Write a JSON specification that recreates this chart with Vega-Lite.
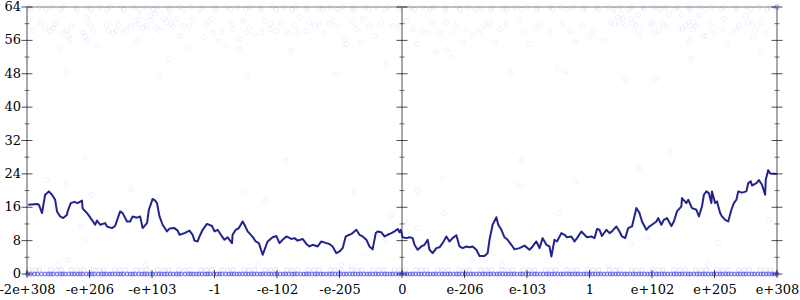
{
  "$schema": "https://vega.github.io/schema/vega-lite/v6.json",
  "width": 750,
  "height": 267,
  "autosize": {"type": "none"},
  "padding": {"left": 27, "top": 7, "right": 23, "bottom": 26},
  "background": "white",
  "config": {
    "font": "DejaVu Serif",
    "view": {"stroke": null},
    "axis": {"grid": false, "domain": false, "ticks": false, "labelFont": "DejaVu Serif", "labelFontSize": 13, "labelColor": "black", "labelOverlap": false, "labelFlush": false, "labelBound": false}
  },
  "datasets": {
    "series": [
      {"x": -5.98, "bits": 16.6}, {"x": -5.84, "bits": 16.8}, {"x": -5.81, "bits": 16.6}, {"x": -5.76, "bits": 14.6}, {"x": -5.71, "bits": 19.0}, {"x": -5.65, "bits": 19.8}, {"x": -5.6, "bits": 19.0}, {"x": -5.55, "bits": 17.8}, {"x": -5.52, "bits": 15.0}, {"x": -5.47, "bits": 13.8}, {"x": -5.42, "bits": 13.4}, {"x": -5.36, "bits": 14.2}, {"x": -5.35, "bits": 15.0}, {"x": -5.3, "bits": 17.0}, {"x": -5.24, "bits": 17.3}, {"x": -5.19, "bits": 17.0}, {"x": -5.12, "bits": 17.6}, {"x": -5.11, "bits": 15.7}, {"x": -5.04, "bits": 14.6}, {"x": -5.0, "bits": 13.8}, {"x": -4.91, "bits": 11.8}, {"x": -4.88, "bits": 12.8}, {"x": -4.83, "bits": 11.8}, {"x": -4.75, "bits": 12.2}, {"x": -4.72, "bits": 11.4}, {"x": -4.64, "bits": 11.0}, {"x": -4.59, "bits": 11.5}, {"x": -4.51, "bits": 15.0}, {"x": -4.47, "bits": 14.6}, {"x": -4.4, "bits": 12.6}, {"x": -4.35, "bits": 12.6}, {"x": -4.31, "bits": 13.8}, {"x": -4.24, "bits": 13.5}, {"x": -4.19, "bits": 13.8}, {"x": -4.15, "bits": 11.0}, {"x": -4.08, "bits": 12.2}, {"x": -4.05, "bits": 15.4}, {"x": -3.99, "bits": 18.0}, {"x": -3.95, "bits": 17.6}, {"x": -3.92, "bits": 17.0}, {"x": -3.88, "bits": 13.8}, {"x": -3.83, "bits": 11.8}, {"x": -3.76, "bits": 10.2}, {"x": -3.72, "bits": 10.9}, {"x": -3.64, "bits": 11.0}, {"x": -3.59, "bits": 10.4}, {"x": -3.56, "bits": 9.4}, {"x": -3.48, "bits": 9.8}, {"x": -3.4, "bits": 10.4}, {"x": -3.35, "bits": 9.4}, {"x": -3.32, "bits": 8.0}, {"x": -3.27, "bits": 7.8}, {"x": -3.24, "bits": 9.0}, {"x": -3.19, "bits": 10.6}, {"x": -3.12, "bits": 12.0}, {"x": -3.04, "bits": 11.5}, {"x": -3.0, "bits": 10.2}, {"x": -2.95, "bits": 10.6}, {"x": -2.88, "bits": 9.0}, {"x": -2.84, "bits": 8.2}, {"x": -2.79, "bits": 8.8}, {"x": -2.72, "bits": 7.4}, {"x": -2.71, "bits": 9.4}, {"x": -2.66, "bits": 10.6}, {"x": -2.61, "bits": 11.0}, {"x": -2.55, "bits": 12.6}, {"x": -2.52, "bits": 11.8}, {"x": -2.47, "bits": 10.2}, {"x": -2.39, "bits": 8.9}, {"x": -2.34, "bits": 7.8}, {"x": -2.29, "bits": 7.4}, {"x": -2.23, "bits": 4.6}, {"x": -2.2, "bits": 5.8}, {"x": -2.15, "bits": 7.8}, {"x": -2.07, "bits": 8.8}, {"x": -2.01, "bits": 9.1}, {"x": -1.96, "bits": 7.4}, {"x": -1.91, "bits": 8.2}, {"x": -1.85, "bits": 9.0}, {"x": -1.77, "bits": 8.4}, {"x": -1.72, "bits": 8.6}, {"x": -1.67, "bits": 8.0}, {"x": -1.59, "bits": 8.4}, {"x": -1.53, "bits": 7.2}, {"x": -1.48, "bits": 6.6}, {"x": -1.43, "bits": 7.0}, {"x": -1.35, "bits": 6.6}, {"x": -1.29, "bits": 7.8}, {"x": -1.21, "bits": 7.4}, {"x": -1.16, "bits": 7.2}, {"x": -1.11, "bits": 6.6}, {"x": -1.05, "bits": 5.0}, {"x": -1.0, "bits": 5.4}, {"x": -0.95, "bits": 6.2}, {"x": -0.9, "bits": 9.0}, {"x": -0.84, "bits": 9.4}, {"x": -0.79, "bits": 9.8}, {"x": -0.73, "bits": 10.6}, {"x": -0.68, "bits": 9.4}, {"x": -0.63, "bits": 9.0}, {"x": -0.57, "bits": 8.2}, {"x": -0.52, "bits": 6.6}, {"x": -0.47, "bits": 5.9}, {"x": -0.42, "bits": 9.8}, {"x": -0.39, "bits": 10.2}, {"x": -0.33, "bits": 10.0}, {"x": -0.28, "bits": 9.0}, {"x": -0.23, "bits": 9.4}, {"x": -0.17, "bits": 9.8}, {"x": -0.12, "bits": 10.2}, {"x": -0.07, "bits": 10.8}, {"x": -0.04, "bits": 10.0}, {"x": -0.02, "bits": 10.6}, {"x": 0.01, "bits": 8.8}, {"x": 0.07, "bits": 8.6}, {"x": 0.12, "bits": 8.8}, {"x": 0.17, "bits": 8.6}, {"x": 0.2, "bits": 7.0}, {"x": 0.25, "bits": 5.8}, {"x": 0.31, "bits": 6.6}, {"x": 0.36, "bits": 7.0}, {"x": 0.41, "bits": 8.2}, {"x": 0.44, "bits": 5.8}, {"x": 0.49, "bits": 5.0}, {"x": 0.55, "bits": 6.2}, {"x": 0.6, "bits": 6.4}, {"x": 0.65, "bits": 7.4}, {"x": 0.71, "bits": 9.0}, {"x": 0.76, "bits": 7.8}, {"x": 0.81, "bits": 8.6}, {"x": 0.87, "bits": 9.3}, {"x": 0.92, "bits": 6.6}, {"x": 0.97, "bits": 6.2}, {"x": 1.03, "bits": 6.6}, {"x": 1.08, "bits": 6.4}, {"x": 1.13, "bits": 6.6}, {"x": 1.19, "bits": 5.8}, {"x": 1.24, "bits": 4.3}, {"x": 1.32, "bits": 4.3}, {"x": 1.37, "bits": 5.0}, {"x": 1.4, "bits": 8.2}, {"x": 1.45, "bits": 11.8}, {"x": 1.51, "bits": 13.6}, {"x": 1.54, "bits": 11.8}, {"x": 1.59, "bits": 10.6}, {"x": 1.64, "bits": 8.8}, {"x": 1.69, "bits": 8.2}, {"x": 1.75, "bits": 7.0}, {"x": 1.8, "bits": 5.9}, {"x": 1.88, "bits": 6.2}, {"x": 1.96, "bits": 6.8}, {"x": 2.04, "bits": 5.8}, {"x": 2.09, "bits": 6.6}, {"x": 2.15, "bits": 7.8}, {"x": 2.2, "bits": 6.2}, {"x": 2.25, "bits": 8.6}, {"x": 2.31, "bits": 7.0}, {"x": 2.36, "bits": 6.6}, {"x": 2.39, "bits": 4.2}, {"x": 2.44, "bits": 8.2}, {"x": 2.48, "bits": 7.8}, {"x": 2.55, "bits": 9.8}, {"x": 2.6, "bits": 9.4}, {"x": 2.64, "bits": 8.8}, {"x": 2.71, "bits": 9.0}, {"x": 2.76, "bits": 7.8}, {"x": 2.8, "bits": 8.6}, {"x": 2.87, "bits": 10.2}, {"x": 2.92, "bits": 9.4}, {"x": 2.96, "bits": 8.8}, {"x": 3.03, "bits": 9.0}, {"x": 3.08, "bits": 8.6}, {"x": 3.12, "bits": 10.8}, {"x": 3.16, "bits": 10.6}, {"x": 3.2, "bits": 9.1}, {"x": 3.27, "bits": 10.6}, {"x": 3.32, "bits": 9.8}, {"x": 3.36, "bits": 10.2}, {"x": 3.43, "bits": 11.4}, {"x": 3.48, "bits": 10.2}, {"x": 3.52, "bits": 9.0}, {"x": 3.57, "bits": 8.6}, {"x": 3.62, "bits": 11.0}, {"x": 3.68, "bits": 11.4}, {"x": 3.75, "bits": 15.8}, {"x": 3.8, "bits": 14.6}, {"x": 3.84, "bits": 12.6}, {"x": 3.91, "bits": 10.6}, {"x": 3.96, "bits": 11.4}, {"x": 4.0, "bits": 11.8}, {"x": 4.07, "bits": 12.6}, {"x": 4.1, "bits": 13.4}, {"x": 4.15, "bits": 11.8}, {"x": 4.19, "bits": 13.0}, {"x": 4.24, "bits": 13.4}, {"x": 4.31, "bits": 11.5}, {"x": 4.35, "bits": 12.6}, {"x": 4.4, "bits": 15.0}, {"x": 4.47, "bits": 16.2}, {"x": 4.48, "bits": 18.2}, {"x": 4.55, "bits": 17.0}, {"x": 4.58, "bits": 17.8}, {"x": 4.64, "bits": 15.8}, {"x": 4.71, "bits": 15.4}, {"x": 4.75, "bits": 13.8}, {"x": 4.8, "bits": 16.2}, {"x": 4.83, "bits": 19.0}, {"x": 4.87, "bits": 19.8}, {"x": 4.91, "bits": 19.4}, {"x": 4.95, "bits": 17.0}, {"x": 4.96, "bits": 19.8}, {"x": 5.01, "bits": 17.0}, {"x": 5.04, "bits": 17.4}, {"x": 5.09, "bits": 14.6}, {"x": 5.12, "bits": 13.8}, {"x": 5.17, "bits": 13.0}, {"x": 5.22, "bits": 12.6}, {"x": 5.27, "bits": 15.4}, {"x": 5.31, "bits": 17.0}, {"x": 5.35, "bits": 17.8}, {"x": 5.38, "bits": 19.8}, {"x": 5.44, "bits": 19.5}, {"x": 5.51, "bits": 19.8}, {"x": 5.54, "bits": 21.8}, {"x": 5.58, "bits": 22.2}, {"x": 5.6, "bits": 21.2}, {"x": 5.67, "bits": 21.8}, {"x": 5.71, "bits": 22.5}, {"x": 5.76, "bits": 21.4}, {"x": 5.81, "bits": 19.0}, {"x": 5.82, "bits": 22.6}, {"x": 5.86, "bits": 24.9}, {"x": 5.89, "bits": 24.1}, {"x": 6.0, "bits": 24.0}
    ],
    "samples": [
      {"x": -5.98, "bits": 61.1}, {"x": -5.77, "bits": 60.2}, {"x": -5.91, "bits": 58.3}, {"x": -5.71, "bits": 58.7}, {"x": -5.63, "bits": 58.3}, {"x": -5.58, "bits": 58.9}, {"x": -5.54, "bits": 59.9}, {"x": -5.42, "bits": 57.7}, {"x": -5.37, "bits": 58.3}, {"x": -5.34, "bits": 57.0}, {"x": -5.31, "bits": 56.3}, {"x": -5.29, "bits": 59.5}, {"x": -5.47, "bits": 54.3}, {"x": -5.1, "bits": 57.9}, {"x": -5.07, "bits": 57.0}, {"x": -5.05, "bits": 55.9}, {"x": -5.04, "bits": 61.3}, {"x": -4.99, "bits": 59.9}, {"x": -4.94, "bits": 58.5}, {"x": -4.86, "bits": 54.9}, {"x": -4.73, "bits": 59.5}, {"x": -4.7, "bits": 58.3}, {"x": -4.62, "bits": 57.7}, {"x": -4.57, "bits": 58.5}, {"x": -4.53, "bits": 59.7}, {"x": -4.46, "bits": 57.9}, {"x": -4.41, "bits": 58.5}, {"x": -4.34, "bits": 59.5}, {"x": -4.26, "bits": 60.7}, {"x": -4.25, "bits": 55.9}, {"x": -4.21, "bits": 59.9}, {"x": -4.19, "bits": 61.8}, {"x": -4.14, "bits": 59.1}, {"x": -4.09, "bits": 59.5}, {"x": -4.03, "bits": 61.9}, {"x": -4.01, "bits": 60.7}, {"x": -3.95, "bits": 62.3}, {"x": -3.93, "bits": 59.1}, {"x": -3.88, "bits": 58.3}, {"x": -3.82, "bits": 61.1}, {"x": -3.77, "bits": 60.3}, {"x": -3.72, "bits": 61.5}, {"x": -3.69, "bits": 59.9}, {"x": -3.66, "bits": 59.4}, {"x": -3.61, "bits": 61.1}, {"x": -3.56, "bits": 57.1}, {"x": -3.5, "bits": 59.5}, {"x": -3.44, "bits": 54.1}, {"x": -3.4, "bits": 59.5}, {"x": -3.34, "bits": 61.1}, {"x": -3.72, "bits": 51.5}, {"x": -5.38, "bits": 48.4}, {"x": -3.88, "bits": 47.2},
      {"x": -3.16, "bits": 56.7}, {"x": -3.13, "bits": 59.9}, {"x": -3.05, "bits": 61.1}, {"x": -3.02, "bits": 57.9}, {"x": -2.94, "bits": 55.9}, {"x": -2.89, "bits": 57.9}, {"x": -2.81, "bits": 54.7}, {"x": -2.73, "bits": 59.9}, {"x": -2.7, "bits": 58.7}, {"x": -2.6, "bits": 56.3}, {"x": -2.6, "bits": 53.9}, {"x": -2.54, "bits": 60.7}, {"x": -2.49, "bits": 57.9}, {"x": -2.44, "bits": 59.1}, {"x": -2.36, "bits": 57.5}, {"x": -2.25, "bits": 57.9}, {"x": -2.2, "bits": 60.7}, {"x": -2.12, "bits": 58.7}, {"x": -2.09, "bits": 59.9}, {"x": -2.01, "bits": 58.3}, {"x": -1.93, "bits": 59.9}, {"x": -1.82, "bits": 57.9}, {"x": -1.77, "bits": 53.5}, {"x": -1.72, "bits": 59.5}, {"x": -1.66, "bits": 57.9}, {"x": -1.64, "bits": 61.5}, {"x": -1.53, "bits": 58.3}, {"x": -1.48, "bits": 60.3}, {"x": -1.4, "bits": 59.5}, {"x": -1.32, "bits": 59.9}, {"x": -1.24, "bits": 57.5}, {"x": -1.16, "bits": 59.9}, {"x": -1.11, "bits": 60.7}, {"x": -1.05, "bits": 59.5}, {"x": -0.92, "bits": 56.3}, {"x": -0.89, "bits": 55.1}, {"x": -0.79, "bits": 60.3}, {"x": -0.73, "bits": 58.7}, {"x": -0.65, "bits": 55.5}, {"x": -0.63, "bits": 61.1}, {"x": -0.52, "bits": 59.5}, {"x": -0.44, "bits": 57.1}, {"x": -0.33, "bits": 60.3}, {"x": -0.25, "bits": 50.3}, {"x": -0.15, "bits": 59.5}, {"x": -0.04, "bits": 59.1}, {"x": 0.07, "bits": 60.7}, {"x": 0.17, "bits": 58.7}, {"x": 0.25, "bits": 55.1}, {"x": 0.33, "bits": 58.3}, {"x": 0.41, "bits": 57.9}, {"x": 0.49, "bits": 59.9}, {"x": 0.55, "bits": 53.1}, {"x": 0.6, "bits": 57.9}, {"x": 0.71, "bits": 60.3}, {"x": 0.73, "bits": 53.9}, {"x": 0.79, "bits": 51.9}, {"x": 0.81, "bits": 57.9}, {"x": 0.87, "bits": 59.5}, {"x": 0.97, "bits": 55.5}, {"x": 1.03, "bits": 58.7}, {"x": 1.13, "bits": 57.1}, {"x": 1.24, "bits": 57.9}, {"x": 1.32, "bits": 59.5}, {"x": 1.4, "bits": 60.3}, {"x": 1.48, "bits": 55.5}, {"x": 1.56, "bits": 58.7}, {"x": 1.67, "bits": 59.9}, {"x": 1.74, "bits": 48.3}, {"x": 1.88, "bits": 60.7}, {"x": 1.96, "bits": 57.9}, {"x": 2.04, "bits": 55.1}, {"x": 2.14, "bits": 58.7}, {"x": 2.2, "bits": 59.9}, {"x": 2.36, "bits": 57.9}, {"x": 2.49, "bits": 49.5}, {"x": 2.57, "bits": 59.9}, {"x": 2.62, "bits": 48.7}, {"x": 2.68, "bits": 58.3}, {"x": 2.78, "bits": 55.5}, {"x": 2.89, "bits": 59.5}, {"x": 3.0, "bits": 57.1}, {"x": 3.05, "bits": 58.3}, {"x": -2.49, "bits": 47.6}, {"x": -1.05, "bits": 47.9},
      {"x": 3.24, "bits": 55.9}, {"x": 3.34, "bits": 60.3}, {"x": 3.4, "bits": 59.9}, {"x": 3.45, "bits": 61.5}, {"x": 3.48, "bits": 59.9}, {"x": 3.5, "bits": 62.3}, {"x": 3.53, "bits": 61.1}, {"x": 3.58, "bits": 59.5}, {"x": 3.66, "bits": 61.1}, {"x": 3.69, "bits": 59.9}, {"x": 3.72, "bits": 58.3}, {"x": 3.74, "bits": 59.5}, {"x": 3.78, "bits": 62.1}, {"x": 3.8, "bits": 57.1}, {"x": 3.85, "bits": 59.1}, {"x": 3.98, "bits": 59.9}, {"x": 4.01, "bits": 60.3}, {"x": 4.03, "bits": 57.9}, {"x": 4.11, "bits": 58.3}, {"x": 4.17, "bits": 59.9}, {"x": 4.25, "bits": 59.1}, {"x": 4.27, "bits": 62.3}, {"x": 4.43, "bits": 59.1}, {"x": 4.46, "bits": 61.9}, {"x": 4.49, "bits": 58.7}, {"x": 4.54, "bits": 59.5}, {"x": 4.59, "bits": 60.3}, {"x": 4.59, "bits": 55.9}, {"x": 4.62, "bits": 51.5}, {"x": 4.65, "bits": 58.7}, {"x": 4.67, "bits": 60.3}, {"x": 4.7, "bits": 59.5}, {"x": 4.75, "bits": 61.9}, {"x": 4.81, "bits": 57.1}, {"x": 4.86, "bits": 57.1}, {"x": 4.94, "bits": 59.9}, {"x": 4.99, "bits": 57.9}, {"x": 5.13, "bits": 58.7}, {"x": 5.15, "bits": 61.1}, {"x": 5.21, "bits": 55.1}, {"x": 5.29, "bits": 57.9}, {"x": 5.34, "bits": 58.7}, {"x": 5.39, "bits": 59.5}, {"x": 5.53, "bits": 60.3}, {"x": 5.61, "bits": 59.9}, {"x": 5.61, "bits": 56.7}, {"x": 5.66, "bits": 58.3}, {"x": 5.74, "bits": 53.1}, {"x": 5.74, "bits": 60.3}, {"x": 5.82, "bits": 57.9}, {"x": 3.56, "bits": 46.7}, {"x": 4.06, "bits": 46.7}, {"x": 5.5, "bits": 61.9},
      {"x": -5.07, "bits": 28.1}, {"x": -5.69, "bits": 22.6}, {"x": -5.37, "bits": 21.4}, {"x": -4.97, "bits": 19.0}, {"x": -4.33, "bits": 20.4}, {"x": -5.07, "bits": 8.2}, {"x": -5.34, "bits": 3.4}, {"x": -5.13, "bits": 11.4}, {"x": -1.86, "bits": 27.0}, {"x": -2.54, "bits": 19.6}, {"x": -2.2, "bits": 17.6}, {"x": -0.76, "bits": 19.6}, {"x": -0.17, "bits": 14.0}, {"x": -0.6, "bits": 4.8}, {"x": -0.97, "bits": 2.2}, {"x": -0.28, "bits": 8.2}, {"x": 1.9, "bits": 27.3}, {"x": 0.64, "bits": 23.0}, {"x": 0.25, "bits": 20.0}, {"x": 1.83, "bits": 22.0}, {"x": 1.9, "bits": 20.9}, {"x": 2.77, "bits": 22.0}, {"x": 0.68, "bits": 14.6}, {"x": 2.51, "bits": 14.6}, {"x": 0.25, "bits": 11.0}, {"x": 0.04, "bits": 12.6}, {"x": 1.11, "bits": 3.4}, {"x": 4.29, "bits": 29.2}, {"x": 3.8, "bits": 25.4}, {"x": 5.87, "bits": 13.0}, {"x": 3.92, "bits": 8.6}, {"x": 3.66, "bits": 7.2}, {"x": 5.06, "bits": 7.5},
      {"x": -5.5, "bits": 2}, {"x": -4.1, "bits": 2}, {"x": -2.3, "bits": 2}, {"x": -0.8, "bits": 2}, {"x": 1.6, "bits": 2}, {"x": 3.3, "bits": 2}, {"x": 4.9, "bits": 2}
    ],
    "toprows": [
      {"x": -5.95, "bits": 63.4}, {"x": -5.7, "bits": 63.4}, {"x": -5.46, "bits": 63.4}, {"x": -5.2, "bits": 63.4}, {"x": -4.97, "bits": 63.4}, {"x": -4.72, "bits": 63.4}, {"x": -4.45, "bits": 63.4}, {"x": -4.21, "bits": 63.4}, {"x": -3.98, "bits": 63.4}, {"x": -3.72, "bits": 63.4}, {"x": -3.49, "bits": 63.4}, {"x": -3.23, "bits": 63.4}, {"x": -2.98, "bits": 63.4}, {"x": -2.74, "bits": 63.4}, {"x": -2.5, "bits": 63.4}, {"x": -2.26, "bits": 63.4}, {"x": -2.01, "bits": 63.4}, {"x": -1.76, "bits": 63.4}, {"x": -1.52, "bits": 63.4}, {"x": -1.27, "bits": 63.4}, {"x": -1.03, "bits": 63.4}, {"x": -0.77, "bits": 63.4}, {"x": -0.53, "bits": 63.4}, {"x": -0.28, "bits": 63.4}, {"x": -0.05, "bits": 63.4}, {"x": 0.2, "bits": 63.4}, {"x": 0.44, "bits": 63.4}, {"x": 0.69, "bits": 63.4}, {"x": 0.93, "bits": 63.4}, {"x": 1.18, "bits": 63.4}, {"x": 1.42, "bits": 63.4}, {"x": 1.67, "bits": 63.4}, {"x": 1.91, "bits": 63.4}, {"x": 2.16, "bits": 63.4}, {"x": 2.41, "bits": 63.4}, {"x": 2.65, "bits": 63.4}, {"x": 2.9, "bits": 63.4}, {"x": 3.14, "bits": 63.4}, {"x": 3.39, "bits": 63.4}, {"x": 3.63, "bits": 63.4}, {"x": 3.88, "bits": 63.4}, {"x": 4.12, "bits": 63.4}, {"x": 4.37, "bits": 63.4}, {"x": 4.61, "bits": 63.4}, {"x": 4.86, "bits": 63.4}, {"x": 5.1, "bits": 63.4}, {"x": 5.35, "bits": 63.4}, {"x": 5.59, "bits": 63.4}, {"x": 5.84, "bits": 63.4}, {"x": 5.98, "bits": 63.4},
      {"x": -5.97, "bits": 64}, {"x": -5.8, "bits": 64}, {"x": -5.61, "bits": 64}, {"x": -5.42, "bits": 64}, {"x": -5.22, "bits": 64}, {"x": -5.03, "bits": 64}, {"x": -4.84, "bits": 64}, {"x": -4.67, "bits": 64}, {"x": -4.49, "bits": 64}, {"x": -4.3, "bits": 64}, {"x": -4.11, "bits": 64}, {"x": -3.92, "bits": 64}, {"x": -3.74, "bits": 64}, {"x": -3.56, "bits": 64}, {"x": -3.37, "bits": 64}, {"x": -3.18, "bits": 64}, {"x": -2.99, "bits": 64}, {"x": -2.8, "bits": 64}, {"x": -2.63, "bits": 64}, {"x": -2.44, "bits": 64}, {"x": -2.26, "bits": 64}, {"x": -2.07, "bits": 64}, {"x": -1.89, "bits": 64}, {"x": -1.71, "bits": 64}, {"x": -1.52, "bits": 64}, {"x": -1.33, "bits": 64}, {"x": -1.15, "bits": 64}, {"x": -0.96, "bits": 64}, {"x": -0.78, "bits": 64}, {"x": -0.59, "bits": 64}, {"x": -0.41, "bits": 64}, {"x": -0.22, "bits": 64}, {"x": -0.04, "bits": 64}, {"x": 0.14, "bits": 64}, {"x": 0.33, "bits": 64}, {"x": 0.51, "bits": 64}, {"x": 0.7, "bits": 64}, {"x": 0.88, "bits": 64}, {"x": 1.07, "bits": 64}, {"x": 1.26, "bits": 64}, {"x": 1.44, "bits": 64}, {"x": 1.63, "bits": 64}, {"x": 1.81, "bits": 64}, {"x": 2.0, "bits": 64}, {"x": 2.18, "bits": 64}, {"x": 2.37, "bits": 64}, {"x": 2.55, "bits": 64}, {"x": 2.74, "bits": 64}, {"x": 2.92, "bits": 64}, {"x": 3.11, "bits": 64}, {"x": 3.3, "bits": 64}, {"x": 3.48, "bits": 64}, {"x": 3.67, "bits": 64}, {"x": 3.85, "bits": 64}, {"x": 4.04, "bits": 64}, {"x": 4.22, "bits": 64}, {"x": 4.41, "bits": 64}, {"x": 4.59, "bits": 64}, {"x": 4.78, "bits": 64}, {"x": 4.96, "bits": 64}, {"x": 5.15, "bits": 64}, {"x": 5.34, "bits": 64}, {"x": 5.52, "bits": 64}, {"x": 5.71, "bits": 64}, {"x": 5.89, "bits": 64}, {"x": 5.99, "bits": 64}, {"x": 6.0, "bits": 64}, {"x": 6.0, "bits": 64}, {"x": 6.0, "bits": 64}, {"x": 6.0, "bits": 64}, {"x": 6.0, "bits": 64}
    ],
    "lowrows": [
      {"x": -5.96, "bits": 1}, {"x": -5.8, "bits": 1}, {"x": -5.62, "bits": 1}, {"x": -5.45, "bits": 1}, {"x": -5.29, "bits": 1}, {"x": -5.1, "bits": 1}, {"x": -4.94, "bits": 1}, {"x": -4.77, "bits": 1}, {"x": -4.6, "bits": 1}, {"x": -4.42, "bits": 1}, {"x": -4.25, "bits": 1}, {"x": -4.08, "bits": 1}, {"x": -3.91, "bits": 1}, {"x": -3.73, "bits": 1}, {"x": -3.57, "bits": 1}, {"x": -3.39, "bits": 1}, {"x": -3.22, "bits": 1}, {"x": -3.05, "bits": 1}, {"x": -2.88, "bits": 1}, {"x": -2.7, "bits": 1}, {"x": -2.53, "bits": 1}, {"x": -2.36, "bits": 1}, {"x": -2.19, "bits": 1}, {"x": -2.02, "bits": 1}, {"x": -1.84, "bits": 1}, {"x": -1.67, "bits": 1}, {"x": -1.5, "bits": 1}, {"x": -1.33, "bits": 1}, {"x": -1.15, "bits": 1}, {"x": -0.98, "bits": 1}, {"x": -0.81, "bits": 1}, {"x": -0.64, "bits": 1}, {"x": -0.47, "bits": 1}, {"x": -0.29, "bits": 1}, {"x": -0.12, "bits": 1}, {"x": 0.05, "bits": 1}, {"x": 0.22, "bits": 1}, {"x": 0.39, "bits": 1}, {"x": 0.57, "bits": 1}, {"x": 0.74, "bits": 1}, {"x": 0.91, "bits": 1}, {"x": 1.08, "bits": 1}, {"x": 1.25, "bits": 1}, {"x": 1.43, "bits": 1}, {"x": 1.6, "bits": 1}, {"x": 1.77, "bits": 1}, {"x": 1.94, "bits": 1}, {"x": 2.12, "bits": 1}, {"x": 2.29, "bits": 1}, {"x": 2.46, "bits": 1}, {"x": 2.63, "bits": 1}, {"x": 2.8, "bits": 1}, {"x": 2.98, "bits": 1}, {"x": 3.15, "bits": 1}, {"x": 3.32, "bits": 1}, {"x": 3.49, "bits": 1}, {"x": 3.67, "bits": 1}, {"x": 3.84, "bits": 1}, {"x": 4.01, "bits": 1}, {"x": 4.18, "bits": 1}, {"x": 4.35, "bits": 1}, {"x": 4.53, "bits": 1}, {"x": 4.7, "bits": 1}, {"x": 4.87, "bits": 1}, {"x": 5.04, "bits": 1}, {"x": 5.22, "bits": 1}, {"x": 5.39, "bits": 1}, {"x": 5.56, "bits": 1}, {"x": 5.73, "bits": 1}, {"x": 5.9, "bits": 1},
      {"x": -5.87, "bits": 0.9}, {"x": -5.53, "bits": 0.9}, {"x": -5.19, "bits": 0.9}, {"x": -4.85, "bits": 0.9}, {"x": -4.51, "bits": 0.9}, {"x": -4.17, "bits": 0.9}, {"x": -3.82, "bits": 0.9}, {"x": -3.48, "bits": 0.9}, {"x": -3.13, "bits": 0.9}, {"x": -2.79, "bits": 0.9}, {"x": -2.45, "bits": 0.9}, {"x": -2.1, "bits": 0.9}, {"x": -1.76, "bits": 0.9}, {"x": -1.41, "bits": 0.9}, {"x": -1.07, "bits": 0.9}, {"x": -0.72, "bits": 0.9}, {"x": -0.38, "bits": 0.9}, {"x": -0.03, "bits": 0.9}, {"x": 0.31, "bits": 0.9}, {"x": 0.65, "bits": 0.9}, {"x": 1.0, "bits": 0.9}, {"x": 1.34, "bits": 0.9}, {"x": 1.69, "bits": 0.9}, {"x": 2.03, "bits": 0.9}, {"x": 2.38, "bits": 0.9}, {"x": 2.72, "bits": 0.9}, {"x": 3.06, "bits": 0.9}, {"x": 3.41, "bits": 0.9}, {"x": 3.75, "bits": 0.9}, {"x": 4.1, "bits": 0.9}, {"x": 4.44, "bits": 0.9}, {"x": 4.79, "bits": 0.9}, {"x": 5.13, "bits": 0.9}, {"x": 5.47, "bits": 0.9}, {"x": 5.82, "bits": 0.9}
    ],
    "zerorow": [
      {"x": -5.99, "bits": 0}, {"x": -5.94, "bits": 0}, {"x": -5.88, "bits": 0}, {"x": -5.83, "bits": 0}, {"x": -5.77, "bits": 0}, {"x": -5.71, "bits": 0}, {"x": -5.66, "bits": 0}, {"x": -5.62, "bits": 0}, {"x": -5.58, "bits": 0}, {"x": -5.52, "bits": 0}, {"x": -5.47, "bits": 0}, {"x": -5.43, "bits": 0}, {"x": -5.39, "bits": 0}, {"x": -5.33, "bits": 0}, {"x": -5.28, "bits": 0}, {"x": -5.24, "bits": 0}, {"x": -5.19, "bits": 0}, {"x": -5.15, "bits": 0}, {"x": -5.11, "bits": 0}, {"x": -5.05, "bits": 0}, {"x": -5.0, "bits": 0}, {"x": -4.96, "bits": 0}, {"x": -4.92, "bits": 0}, {"x": -4.86, "bits": 0}, {"x": -4.81, "bits": 0}, {"x": -4.77, "bits": 0}, {"x": -4.73, "bits": 0}, {"x": -4.68, "bits": 0}, {"x": -4.64, "bits": 0}, {"x": -4.59, "bits": 0}, {"x": -4.54, "bits": 0}, {"x": -4.5, "bits": 0}, {"x": -4.46, "bits": 0}, {"x": -4.4, "bits": 0}, {"x": -4.35, "bits": 0}, {"x": -4.31, "bits": 0}, {"x": -4.27, "bits": 0}, {"x": -4.21, "bits": 0}, {"x": -4.16, "bits": 0}, {"x": -4.12, "bits": 0}, {"x": -4.08, "bits": 0}, {"x": -4.03, "bits": 0}, {"x": -3.99, "bits": 0}, {"x": -3.94, "bits": 0}, {"x": -3.89, "bits": 0}, {"x": -3.85, "bits": 0}, {"x": -3.8, "bits": 0}, {"x": -3.76, "bits": 0}, {"x": -3.71, "bits": 0}, {"x": -3.66, "bits": 0}, {"x": -3.61, "bits": 0}, {"x": -3.57, "bits": 0}, {"x": -3.53, "bits": 0}, {"x": -3.47, "bits": 0}, {"x": -3.42, "bits": 0}, {"x": -3.38, "bits": 0}, {"x": -3.34, "bits": 0}, {"x": -3.29, "bits": 0}, {"x": -3.25, "bits": 0}, {"x": -3.2, "bits": 0}, {"x": -3.15, "bits": 0}, {"x": -3.11, "bits": 0}, {"x": -3.07, "bits": 0}, {"x": -3.01, "bits": 0}, {"x": -2.96, "bits": 0}, {"x": -2.92, "bits": 0}, {"x": -2.88, "bits": 0}, {"x": -2.82, "bits": 0}, {"x": -2.77, "bits": 0}, {"x": -2.73, "bits": 0}, {"x": -2.69, "bits": 0}, {"x": -2.64, "bits": 0}, {"x": -2.6, "bits": 0}, {"x": -2.55, "bits": 0}, {"x": -2.5, "bits": 0}, {"x": -2.46, "bits": 0}, {"x": -2.41, "bits": 0}, {"x": -2.37, "bits": 0}, {"x": -2.32, "bits": 0}, {"x": -2.27, "bits": 0}, {"x": -2.23, "bits": 0}, {"x": -2.18, "bits": 0}, {"x": -2.13, "bits": 0}, {"x": -2.09, "bits": 0}, {"x": -2.04, "bits": 0}, {"x": -2.0, "bits": 0}, {"x": -1.95, "bits": 0}, {"x": -1.9, "bits": 0}, {"x": -1.86, "bits": 0}, {"x": -1.81, "bits": 0}, {"x": -1.76, "bits": 0}, {"x": -1.72, "bits": 0}, {"x": -1.68, "bits": 0}, {"x": -1.62, "bits": 0}, {"x": -1.57, "bits": 0}, {"x": -1.53, "bits": 0}, {"x": -1.49, "bits": 0}, {"x": -1.44, "bits": 0}, {"x": -1.39, "bits": 0}, {"x": -1.35, "bits": 0}, {"x": -1.3, "bits": 0}, {"x": -1.26, "bits": 0}, {"x": -1.21, "bits": 0}, {"x": -1.16, "bits": 0}, {"x": -1.12, "bits": 0}, {"x": -1.07, "bits": 0}, {"x": -1.02, "bits": 0}, {"x": -0.98, "bits": 0}, {"x": -0.93, "bits": 0}, {"x": -0.89, "bits": 0}, {"x": -0.84, "bits": 0}, {"x": -0.79, "bits": 0}, {"x": -0.75, "bits": 0}, {"x": -0.7, "bits": 0}, {"x": -0.66, "bits": 0}, {"x": -0.61, "bits": 0}, {"x": -0.56, "bits": 0}, {"x": -0.52, "bits": 0}, {"x": -0.47, "bits": 0}, {"x": -0.42, "bits": 0}, {"x": -0.38, "bits": 0}, {"x": -0.33, "bits": 0}, {"x": -0.28, "bits": 0}, {"x": -0.24, "bits": 0}, {"x": -0.19, "bits": 0}, {"x": -0.15, "bits": 0}, {"x": -0.1, "bits": 0}, {"x": -0.05, "bits": 0}, {"x": -0.01, "bits": 0}, {"x": 0.04, "bits": 0}, {"x": 0.08, "bits": 0}, {"x": 0.13, "bits": 0}, {"x": 0.17, "bits": 0}, {"x": 0.22, "bits": 0}, {"x": 0.27, "bits": 0}, {"x": 0.31, "bits": 0}, {"x": 0.36, "bits": 0}, {"x": 0.41, "bits": 0}, {"x": 0.45, "bits": 0}, {"x": 0.5, "bits": 0}, {"x": 0.54, "bits": 0}, {"x": 0.59, "bits": 0}, {"x": 0.64, "bits": 0}, {"x": 0.68, "bits": 0}, {"x": 0.73, "bits": 0}, {"x": 0.77, "bits": 0}, {"x": 0.82, "bits": 0}, {"x": 0.87, "bits": 0}, {"x": 0.91, "bits": 0}, {"x": 0.96, "bits": 0}, {"x": 1.01, "bits": 0}, {"x": 1.05, "bits": 0}, {"x": 1.1, "bits": 0}, {"x": 1.14, "bits": 0}, {"x": 1.19, "bits": 0}, {"x": 1.24, "bits": 0}, {"x": 1.29, "bits": 0}, {"x": 1.33, "bits": 0}, {"x": 1.38, "bits": 0}, {"x": 1.42, "bits": 0}, {"x": 1.47, "bits": 0}, {"x": 1.52, "bits": 0}, {"x": 1.56, "bits": 0}, {"x": 1.61, "bits": 0}, {"x": 1.66, "bits": 0}, {"x": 1.7, "bits": 0}, {"x": 1.75, "bits": 0}, {"x": 1.79, "bits": 0}, {"x": 1.84, "bits": 0}, {"x": 1.89, "bits": 0}, {"x": 1.93, "bits": 0}, {"x": 1.98, "bits": 0}, {"x": 2.03, "bits": 0}, {"x": 2.07, "bits": 0}, {"x": 2.12, "bits": 0}, {"x": 2.16, "bits": 0}, {"x": 2.21, "bits": 0}, {"x": 2.26, "bits": 0}, {"x": 2.31, "bits": 0}, {"x": 2.35, "bits": 0}, {"x": 2.4, "bits": 0}, {"x": 2.44, "bits": 0}, {"x": 2.49, "bits": 0}, {"x": 2.54, "bits": 0}, {"x": 2.58, "bits": 0}, {"x": 2.63, "bits": 0}, {"x": 2.68, "bits": 0}, {"x": 2.72, "bits": 0}, {"x": 2.77, "bits": 0}, {"x": 2.81, "bits": 0}, {"x": 2.86, "bits": 0}, {"x": 2.91, "bits": 0}, {"x": 2.95, "bits": 0}, {"x": 3.0, "bits": 0}, {"x": 3.05, "bits": 0}, {"x": 3.09, "bits": 0}, {"x": 3.14, "bits": 0}, {"x": 3.18, "bits": 0}, {"x": 3.23, "bits": 0}, {"x": 3.28, "bits": 0}, {"x": 3.33, "bits": 0}, {"x": 3.37, "bits": 0}, {"x": 3.42, "bits": 0}, {"x": 3.46, "bits": 0}, {"x": 3.51, "bits": 0}, {"x": 3.56, "bits": 0}, {"x": 3.6, "bits": 0}, {"x": 3.65, "bits": 0}, {"x": 3.7, "bits": 0}, {"x": 3.74, "bits": 0}, {"x": 3.79, "bits": 0}, {"x": 3.83, "bits": 0}, {"x": 3.88, "bits": 0}, {"x": 3.93, "bits": 0}, {"x": 3.97, "bits": 0}, {"x": 4.02, "bits": 0}, {"x": 4.07, "bits": 0}, {"x": 4.11, "bits": 0}, {"x": 4.16, "bits": 0}, {"x": 4.2, "bits": 0}, {"x": 4.25, "bits": 0}, {"x": 4.3, "bits": 0}, {"x": 4.35, "bits": 0}, {"x": 4.39, "bits": 0}, {"x": 4.44, "bits": 0}, {"x": 4.48, "bits": 0}, {"x": 4.53, "bits": 0}, {"x": 4.58, "bits": 0}, {"x": 4.62, "bits": 0}, {"x": 4.67, "bits": 0}, {"x": 4.72, "bits": 0}, {"x": 4.76, "bits": 0}, {"x": 4.81, "bits": 0}, {"x": 4.85, "bits": 0}, {"x": 4.9, "bits": 0}, {"x": 4.95, "bits": 0}, {"x": 4.99, "bits": 0}, {"x": 5.04, "bits": 0}, {"x": 5.09, "bits": 0}, {"x": 5.13, "bits": 0}, {"x": 5.18, "bits": 0}, {"x": 5.22, "bits": 0}, {"x": 5.27, "bits": 0}, {"x": 5.32, "bits": 0}, {"x": 5.37, "bits": 0}, {"x": 5.41, "bits": 0}, {"x": 5.46, "bits": 0}, {"x": 5.5, "bits": 0}, {"x": 5.55, "bits": 0}, {"x": 5.6, "bits": 0}, {"x": 5.64, "bits": 0}, {"x": 5.69, "bits": 0}, {"x": 5.74, "bits": 0}, {"x": 5.78, "bits": 0}, {"x": 5.83, "bits": 0}, {"x": 5.87, "bits": 0}, {"x": 5.92, "bits": 0}, {"x": 5.96, "bits": 0}, {"x": 6.0, "bits": 0}
    ],
    "vaxes": [{"pos": -6}, {"pos": 0}, {"pos": 6}],
    "haxes": [{"level": 64}],
    "ymajor": [{"y": 0}, {"y": 8}, {"y": 16}, {"y": 24}, {"y": 32}, {"y": 40}, {"y": 48}, {"y": 56}, {"y": 64}],
    "yminor": [{"y": 4}, {"y": 12}, {"y": 20}, {"y": 28}, {"y": 36}, {"y": 44}, {"y": 52}, {"y": 60}],
    "xmajor": [{"x": -6}, {"x": -5}, {"x": -4}, {"x": -3}, {"x": -2}, {"x": -1}, {"x": 0}, {"x": 1}, {"x": 2}, {"x": 3}, {"x": 4}, {"x": 5}, {"x": 6}]
  },
  "layer": [
    {
      "data": {"name": "vaxes"},
      "mark": {"type": "rule", "color": "#a8a8a8", "strokeWidth": 2},
      "encoding": {"x": {"field": "pos", "type": "quantitative", "title": null, "scale": {"domain": [-6, 6], "nice": false, "zero": false},
        "axis": {"title": null, "labelFont": "DejaVu Serif", "labelFontSize": 13, "labelOverlap": false, "labelFlush": false,
          "values": [-6, -5, -4, -3, -2, -1, 0, 1, 2, 3, 4, 5, 6], "labelPadding": 9,
          "labelExpr": "['-2e+308','-e+206','-e+103','-1','-e-102','-e-205','0','e-206','e-103','1','e+102','e+205','e+308'][datum.value + 6]"}}}
    },
    {
      "data": {"name": "haxes"},
      "mark": {"type": "rule", "color": "#a8a8a8", "strokeWidth": 1.5},
      "encoding": {"y": {"field": "level", "type": "quantitative", "title": null, "scale": {"domain": [0, 64], "nice": false, "zero": false},
        "axis": {"title": null, "labels": false, "values": [0, 8, 16, 24, 32, 40, 48, 56, 64]}}}
    },
    {
      "data": {"name": "samples"},
      "mark": {"type": "point", "filled": false, "color": "#3a3af0", "strokeOpacity": 0.09, "strokeWidth": 1, "size": 24},
      "encoding": {
        "x": {"field": "x", "type": "quantitative", "title": null},
        "y": {"field": "bits", "type": "quantitative", "title": null}
      }
    },
    {
      "data": {"name": "toprows"},
      "mark": {"type": "point", "filled": false, "color": "#3a3af0", "strokeOpacity": 0.12, "strokeWidth": 1, "size": 20},
      "encoding": {
        "x": {"field": "x", "type": "quantitative", "title": null},
        "y": {"field": "bits", "type": "quantitative", "title": null}
      }
    },
    {
      "data": {"name": "lowrows"},
      "mark": {"type": "point", "filled": false, "color": "#3a3af0", "strokeOpacity": 0.2, "strokeWidth": 1, "size": 20},
      "encoding": {
        "x": {"field": "x", "type": "quantitative", "title": null},
        "y": {"field": "bits", "type": "quantitative", "title": null}
      }
    },
    {
      "data": {"name": "zerorow"},
      "mark": {"type": "point", "filled": false, "color": "#3030e8", "strokeOpacity": 0.75, "strokeWidth": 1.3, "size": 12},
      "encoding": {
        "x": {"field": "x", "type": "quantitative", "title": null},
        "y": {"field": "bits", "type": "quantitative", "title": null}
      }
    },
    {
      "data": {"name": "series"},
      "mark": {"type": "line", "color": "#23238e", "strokeWidth": 2, "strokeJoin": "round"},
      "encoding": {
        "x": {"field": "x", "type": "quantitative", "title": null},
        "y": {"field": "bits", "type": "quantitative", "title": null}
      }
    },
    {
      "data": {"name": "ymajor"},
      "layer": [
        {"mark": {"type": "tick", "orient": "horizontal", "color": "black", "thickness": 1}, "encoding": {"x": {"datum": -6, "type": "quantitative", "title": null}, "y": {"field": "y", "type": "quantitative", "title": null}, "size": {"value": 11}}},
        {"mark": {"type": "tick", "orient": "horizontal", "color": "black", "thickness": 1}, "encoding": {"x": {"datum": 0, "type": "quantitative", "title": null}, "y": {"field": "y", "type": "quantitative", "title": null}, "size": {"value": 11}}},
        {"mark": {"type": "tick", "orient": "horizontal", "color": "black", "thickness": 1}, "encoding": {"x": {"datum": 6, "type": "quantitative", "title": null}, "y": {"field": "y", "type": "quantitative", "title": null}, "size": {"value": 11}}},
        {"mark": {"type": "text", "align": "right", "baseline": "middle", "dx": -6, "font": "DejaVu Serif", "fontSize": 13, "color": "black"}, "encoding": {"x": {"datum": -6, "type": "quantitative", "title": null}, "y": {"field": "y", "type": "quantitative", "title": null}, "text": {"field": "y", "type": "quantitative", "format": "d"}}}
      ]
    },
    {
      "data": {"name": "yminor"},
      "layer": [
        {"mark": {"type": "tick", "orient": "horizontal", "color": "#333333", "thickness": 1}, "encoding": {"x": {"datum": -6, "type": "quantitative", "title": null}, "y": {"field": "y", "type": "quantitative", "title": null}, "size": {"value": 5}}},
        {"mark": {"type": "tick", "orient": "horizontal", "color": "#333333", "thickness": 1}, "encoding": {"x": {"datum": 0, "type": "quantitative", "title": null}, "y": {"field": "y", "type": "quantitative", "title": null}, "size": {"value": 5}}},
        {"mark": {"type": "tick", "orient": "horizontal", "color": "#333333", "thickness": 1}, "encoding": {"x": {"datum": 6, "type": "quantitative", "title": null}, "y": {"field": "y", "type": "quantitative", "title": null}, "size": {"value": 5}}}
      ]
    },
    {
      "data": {"name": "xmajor"},
      "mark": {"type": "tick", "orient": "vertical", "color": "black", "thickness": 1},
      "encoding": {
        "x": {"field": "x", "type": "quantitative", "title": null},
        "y": {"datum": 0, "type": "quantitative", "title": null},
        "size": {"value": 8}
      }
    }
  ]
}
